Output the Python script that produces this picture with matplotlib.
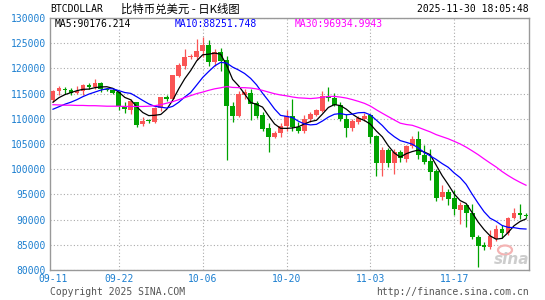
"""BTCDOLLAR daily candles, Sina style (Sep 11 - Nov 29 2025), with MA5 / MA10 / MA30."""

import matplotlib
matplotlib.use("Agg")
import matplotlib.pyplot as plt
from matplotlib.patches import Ellipse
import numpy as np
import pandas as pd

W, H = 545, 300
MONO = "DejaVu Sans Mono"
RED = "#fa5555"     # close > open
GREEN = "#00a300"   # close < open
BLUE_TXT = "#1c7fd0"

dates = pd.date_range("2025-09-11", periods=80, freq="D")

opens = [113700, 115450, 116000, 115800, 115200, 115500, 116800, 116300, 117100, 115800,
         115650, 115400, 112600, 111700, 113300, 108900, 109700, 109300, 112100, 114300,
         114000, 118500, 120500, 122200, 122300, 123500, 124600, 121300, 123300, 121600,
         112600, 110600, 114700, 115200, 113100, 110700, 108100, 106300, 107100, 108500,
         110500, 108300, 107500, 109900, 110800, 111600, 114500, 114200, 112800, 109900,
         108200, 109400, 109900, 110700, 106500, 101300, 103800, 101300, 103400, 102100,
         104700, 105900, 102900, 101600, 99700, 94400, 95500, 94200, 92000, 92900,
         91350, 86500, 84900, 84600, 86100, 88200, 87300, 90400, 91350, 90950]
highs = [115700, 116600, 116400, 116100, 116500, 117000, 117200, 117800, 117400, 116100,
         115900, 115500, 113300, 114000, 113400, 110300, 110000, 112300, 114400, 114800,
         118700, 121000, 123900, 122800, 125800, 126200, 125600, 123900, 124100, 122400,
         113300, 115500, 115900, 115900, 113600, 111300, 109100, 107500, 109100, 111700,
         114000, 109300, 110800, 111300, 111900, 115600, 116300, 115200, 113300, 111000,
         110000, 110500, 111100, 111000, 106800, 104500, 104300, 104000, 103900, 104900,
         106600, 107600, 104800, 104000, 100100, 96800, 96000, 95900, 93500, 93100,
         93000, 87000, 85600, 88000, 88900, 88900, 90600, 92400, 93100, 91300]
lows = [113300, 114700, 114900, 114800, 114900, 114800, 115900, 115900, 115300, 115500,
        115000, 111700, 111200, 111000, 108400, 108600, 109200, 109100, 111600, 113600,
        113900, 118200, 119800, 121800, 121700, 122300, 120500, 120400, 119500, 101800,
        109400, 110300, 113900, 109700, 110100, 107500, 103500, 106100, 106300, 107600,
        107500, 107100, 107200, 109400, 110600, 111400, 113600, 112500, 109600, 106300,
        107600, 108900, 109500, 105100, 98700, 98700, 100500, 99000, 101500, 101500,
        104300, 102100, 101000, 97800, 93600, 93900, 92800, 91000, 89200, 88600,
        86100, 80600, 83900, 84200, 85800, 86300, 87000, 90200, 90100, 90300]
closes = [115450, 116100, 115650, 115200, 115500, 116800, 116300, 117100, 115900, 115700,
          115200, 112550, 111850, 113500, 108700, 109600, 109500, 112200, 114300, 113900,
          118600, 120700, 122200, 122500, 123500, 124600, 121300, 123300, 121400, 112500,
          110600, 114900, 115300, 112900, 110600, 107900, 106300, 107200, 108600, 110500,
          108300, 107500, 110000, 111000, 111700, 114500, 114100, 112800, 110000, 108100,
          109600, 110200, 110500, 106300, 101300, 103800, 101300, 103400, 102200, 104700,
          105900, 102800, 101500, 99500, 94300, 95500, 94100, 92100, 92900, 91400,
          86500, 84700, 84600, 86700, 88100, 87300, 90400, 91400, 90900, 90700]

# moving averages
ma5 = [113300, 114200, 114800, 115200, 115580, 115850, 115890, 116180, 116320, 116360,
       116040, 115290, 114240, 113760, 112360, 111240, 110630, 110700, 110860, 111900,
       113700, 115940, 117940, 119580, 121500, 122700, 122820, 123040, 122820, 120620,
       117820, 116540, 114940, 113240, 112860, 112320, 110600, 108980, 108120, 108100,
       108180, 108420, 108980, 109460, 109700, 110940, 112260, 112820, 112620, 111900,
       110920, 110140, 109680, 108940, 107580, 106420, 104640, 103220, 102400, 103080,
       103500, 103800, 103420, 102880, 100800, 98720, 96980, 95100, 93780, 93200,
       91400, 89520, 88020, 86780, 86120, 86280, 87420, 88780, 89620, 90140]
ma10 = [111900, 112400, 112900, 113300, 113800, 114400, 114900, 115300, 115700, 115970,
        115945, 115590, 115210, 115040, 114360, 113640, 112960, 112470, 112310, 112130,
        112470, 113285, 114320, 115220, 116700, 118200, 119380, 120490, 121200, 121060,
        120260, 119680, 118990, 118030, 116740, 115070, 113570, 111960, 110680, 110480,
        110250, 109510, 108980, 108790, 108900, 109560, 110340, 110900, 111040, 110800,
        110930, 111200, 111250, 110780, 109740, 108670, 107390, 106450, 105670, 105330,
        104960, 104220, 103320, 102640, 101940, 101110, 100390, 99260, 98330, 97000,
        95060, 93250, 91560, 90280, 89660, 88840, 88470, 88400, 88200, 88130]
ma30 = [112800, 112750, 112700, 112700, 112650, 112650, 112600, 112600, 112550, 112500,
        112500, 112500, 112450, 112450, 112450, 112450, 112500, 112600, 112800, 113100,
        113400, 113800, 114200, 114600, 115000, 115300, 115650, 115950, 116150, 116390,
        116225, 116185, 116173, 116097, 115933, 115637, 115303, 114973, 114730, 114557,
        114327, 114158, 114097, 114013, 114113, 114277, 114430, 114450, 114307, 114113,
        113813, 113463, 113073, 112533, 111793, 111100, 110433, 109770, 109130, 108870,
        108713, 108310, 107850, 107403, 106860, 106447, 106040, 105537, 105013, 104377,
        103650, 102890, 102043, 101233, 100447, 99540, 98750, 98037, 97400, 96820]

xtick_dates = ["09-11", "09-22", "10-06", "10-20", "11-03", "11-17"]
ytick_vals = list(range(80000, 130001, 5000))

fig = plt.figure(figsize=(W / 100, H / 100), dpi=100)
ax = fig.add_axes([50 / W, 30 / H, 479 / W, 252 / H])

x = np.arange(len(dates))
o, h, l, c = map(np.array, (opens, highs, lows, closes))
col = np.where(c >= o, RED, GREEN)
ax.vlines(x, l, h, colors=col, linewidth=0.9, zorder=3)
body = np.maximum(np.abs(c - o), 120)   # keep dojis visible as a 1px bar
ax.bar(x, body, width=0.8, bottom=np.minimum(o, c), color=col, linewidth=0, zorder=4)

ax.plot(x, ma5, color="black", lw=0.9, zorder=5)
ax.plot(x, ma10, color="#0000ff", lw=0.9, zorder=5)
ax.plot(x, ma30, color="#ff00ff", lw=0.9, zorder=5)

ax.set_xlim(-0.5, len(dates) - 0.5)
ax.set_ylim(80000, 130000)
labels = dates.strftime("%m-%d").tolist()
ax.set_xticks([labels.index(d) for d in xtick_dates])
ax.set_xticklabels(xtick_dates)
ax.set_yticks(ytick_vals)
ax.set_yticklabels([str(v) for v in ytick_vals])
for t in ax.get_xticklabels() + ax.get_yticklabels():
    t.set_family(MONO)
ax.tick_params(length=0, labelsize=7, colors=BLUE_TXT, pad=3)
ax.grid(True, color="#aaaaaa", linestyle=(0, (1, 2)), linewidth=0.8, zorder=0)
ax.get_xgridlines()[0].set_visible(False)   # first date sits on the left axis
for s in ax.spines.values():
    s.set_color("#999999")
    s.set_linewidth(1.0)


def px(xp, yp):
    return xp / W, 1 - yp / H


fig.text(*px(50, 9), "BTCDOLLAR", family=MONO, fontsize=7, va="center", ha="left")
fig.text(*px(121, 9), "比特币兑美元 - 日K线图", family=["Noto Sans CJK SC", "DejaVu Sans"],
         fontsize=8.2, va="center", ha="left")
fig.text(*px(529, 9), "2025-11-30 18:05:48", family=MONO, fontsize=7, va="center", ha="right")

fig.text(*px(55, 24), "MA5:90176.214", family=MONO, fontsize=7, va="center", color="black")
fig.text(*px(175, 24), "MA10:88251.748", family=MONO, fontsize=7, va="center", color="#0000ff")
fig.text(*px(295, 24), "MA30:96934.9943", family=MONO, fontsize=7, va="center", color="#ff00ff")

fig.text(*px(50, 292), "Copyright 2025 SINA.COM", family=MONO, fontsize=7, va="center",
         color="#555555")
fig.text(*px(529, 292), "http://finance.sina.com.cn", family=MONO, fontsize=7, va="center",
         ha="right", color="#555555")

# faint sina watermark: pink "eye" plus grey lettering
fig.patches.append(Ellipse(px(505, 250), 14 / W, 9 / H, transform=fig.transFigure,
                           fill=False, edgecolor="#f4b4b4", linewidth=1.6))
fig.text(*px(512, 260), "sina", fontsize=11, weight="bold", style="italic", color="#c8c8c8",
         va="center", ha="center", alpha=0.9)

fig.savefig("out.png", dpi=100)
